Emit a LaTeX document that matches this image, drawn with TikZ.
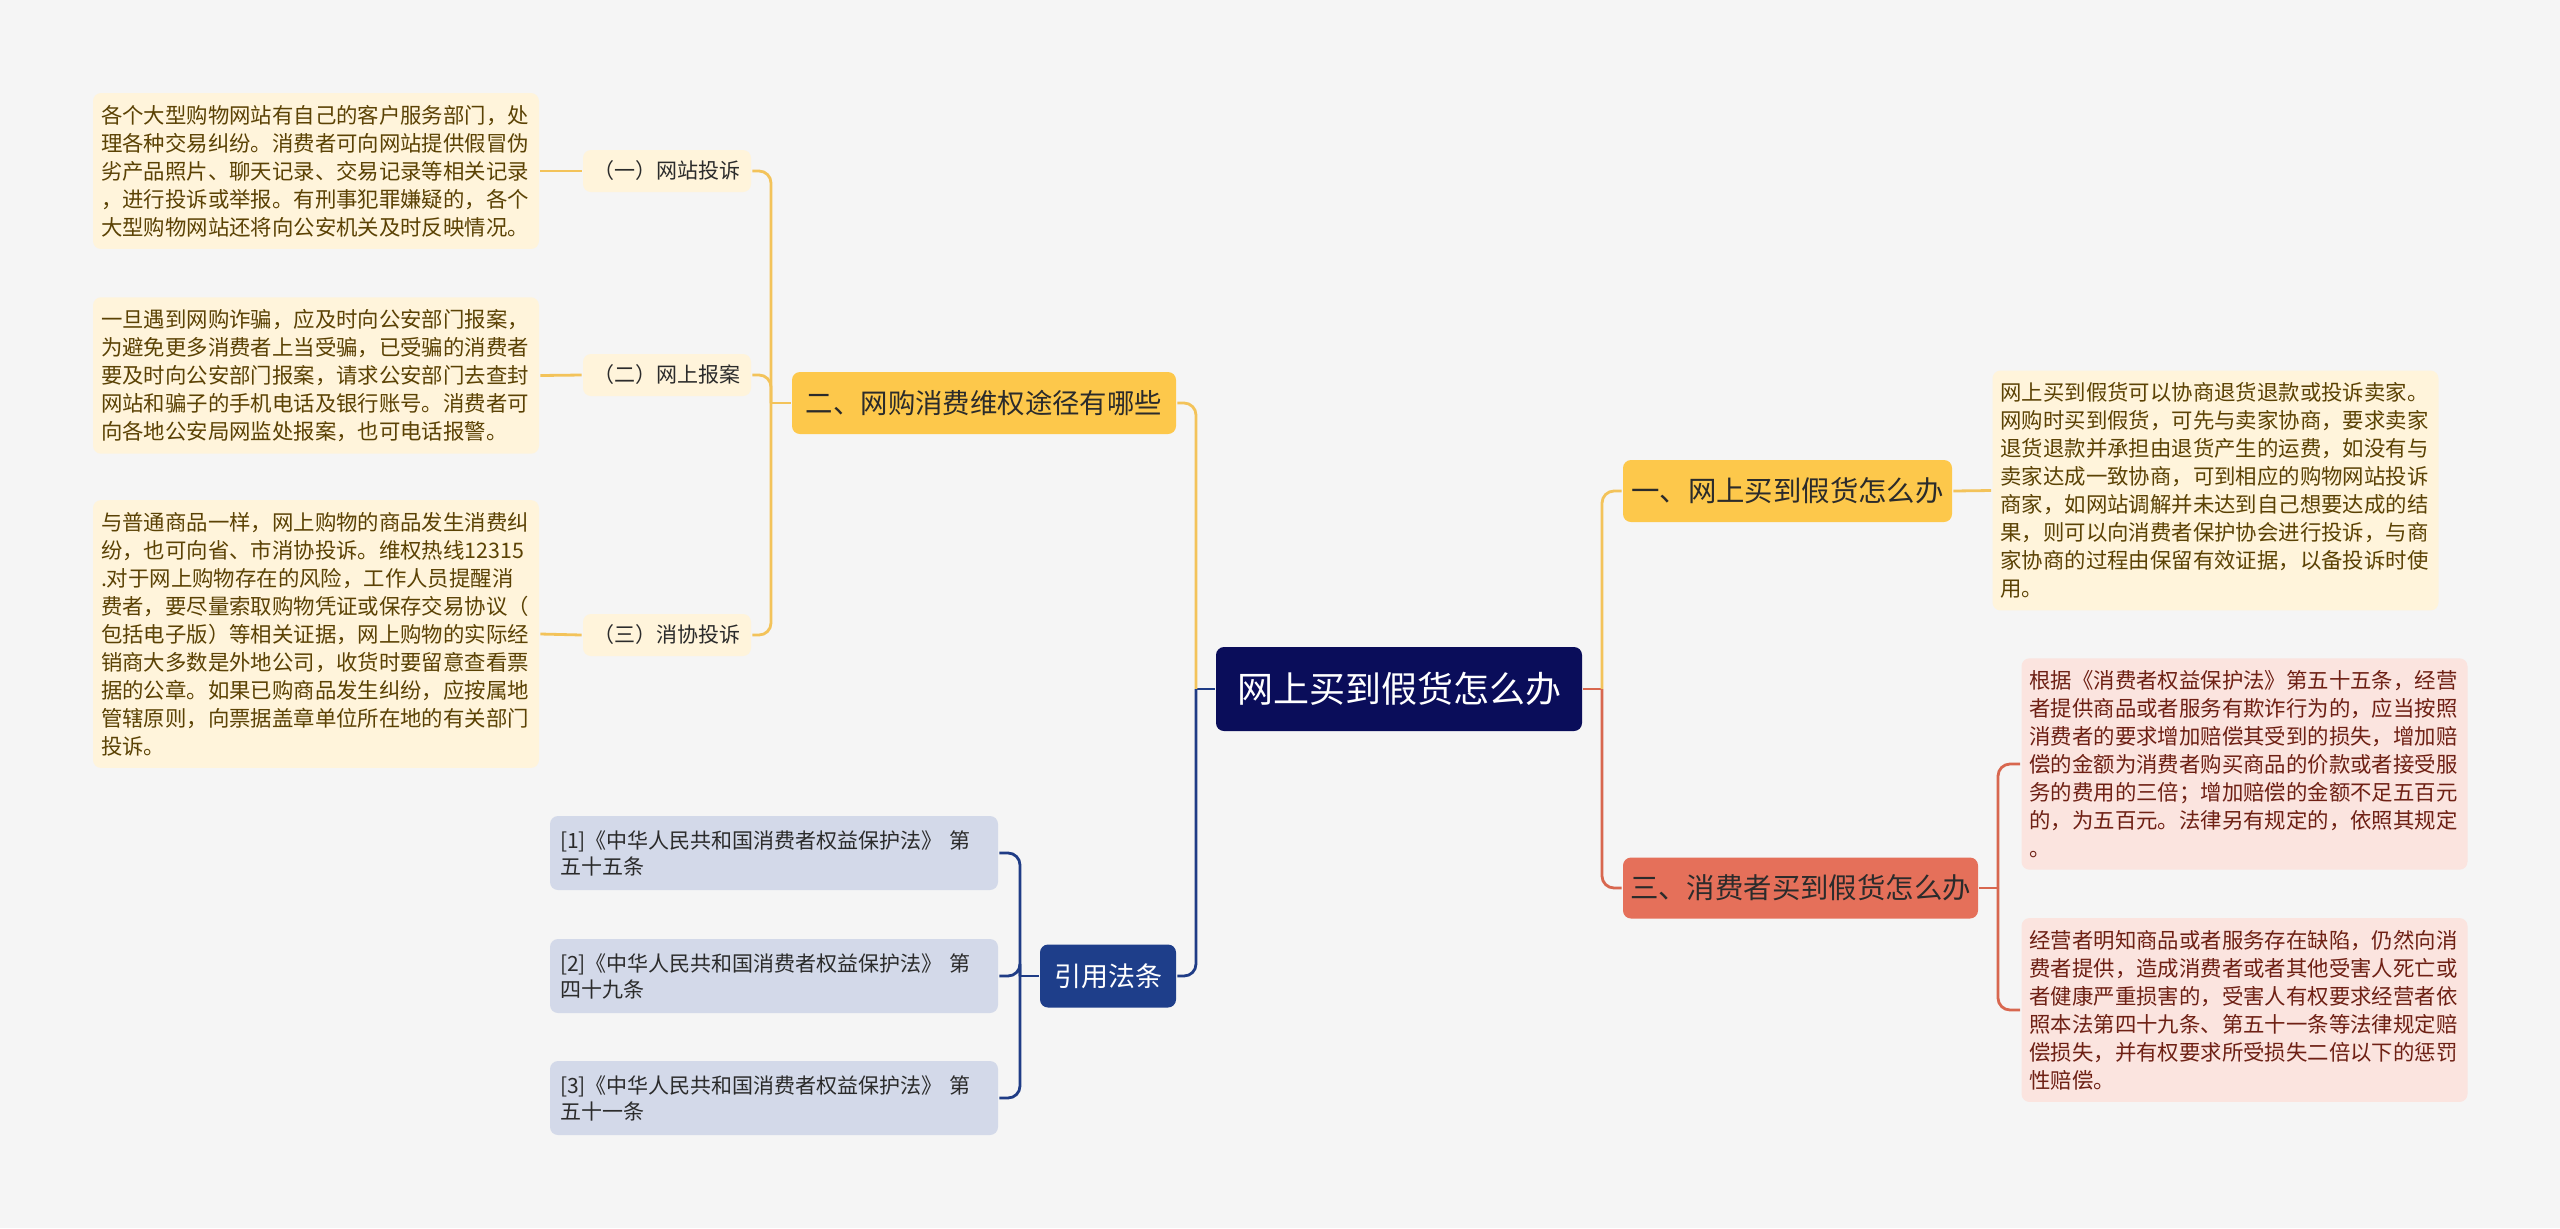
\documentclass[tikz,border=0pt]{standalone}
\usepackage{fontspec}
\setmainfont{Noto Sans CJK SC}
\definecolor{cbg}{HTML}{F5F5F5}
\definecolor{cnavy}{HTML}{0A0D5A}
\definecolor{cyel}{HTML}{FDC84B}
\definecolor{cyelline}{HTML}{F3C35A}
\definecolor{ccream}{HTML}{FFF4DB}
\definecolor{cbrown}{HTML}{5B4204}
\definecolor{cred}{HTML}{E5705A}
\definecolor{credline}{HTML}{D8674F}
\definecolor{cpink}{HTML}{FBE4DF}
\definecolor{cmaroon}{HTML}{6E2014}
\definecolor{claw}{HTML}{1E3E8A}
\definecolor{clawline}{HTML}{1F3C86}
\definecolor{cslate}{HTML}{D3D9E9}
\definecolor{cdark}{HTML}{2B2B2B}
\tikzset{
  every picture/.style={line width=1.4pt},
  topic/.style={fill=#1, rounded corners=4pt, inner sep=0pt, align=center},
  topic/.default=cyel,
  leaf/.style={fill=#1, rounded corners=4pt, inner xsep=4pt, inner ysep=6pt, text width=215pt, align=left, font=\fontsize{10.7}{14}\selectfont},
  leaf/.default=ccream,
  sub/.style={fill=ccream, rounded corners=4pt, inner sep=0pt, minimum width=84pt, minimum height=21pt, text=cdark, font=\fontsize{10.5}{13}\selectfont},
  cite/.style={fill=cslate, rounded corners=4pt, inner xsep=5pt, text width=214pt, minimum height=37pt, align=left, text=cdark, font=\fontsize{10.5}{13}\selectfont},
  link/.style={draw=#1, line width=1.4pt},
  bend/.style={link=#1, rounded corners=6pt},
}
\begin{document}
\begin{tikzpicture}[x=50pt, y=-50pt]
  \fill[cbg] (0,0) rectangle (25.6,12.28);
  \useasboundingbox (0,0) rectangle (25.6,12.28);
  % centre
  \node[topic=cnavy, text=white, font=\fontsize{18}{22}\selectfont, minimum width=183pt, minimum height=42pt] (root) at (13.99,6.89) {网上买到假货怎么办};
  \coordinate (jl) at (11.96,6.89);
  \coordinate (jr) at (16.02,6.89);
  % main topics
  \node[topic, text=cdark, font=\fontsize{13.7}{16}\selectfont, minimum width=192pt, minimum height=31pt] (two) at (9.84,4.03) {二、网购消费维权途径有哪些};
  \node[topic, text=cdark, font=\fontsize{14.2}{17}\selectfont, minimum width=164.5pt, minimum height=31pt] (one) at (17.875,4.91) {一、网上买到假货怎么办};
  \node[topic=cred, text=cdark, font=\fontsize{14.2}{17}\selectfont, minimum width=177.5pt, minimum height=30.5pt] (three) at (18.005,8.88) {三、消费者买到假货怎么办};
  \node[topic=claw, text=white, font=\fontsize{13.5}{16}\selectfont, minimum width=68pt, minimum height=31.5pt] (law) at (11.08,9.76) {引用法条};
  \draw[link=clawline] (root.west) -- (jl);
  \draw[bend=cyelline] (two.east) -| (jl);
  \draw[bend=clawline] (law.east) -| (jl);
  \draw[link=credline] (root.east) -- (jr);
  \draw[bend=cyelline] (one.west) -| (jr);
  \draw[bend=credline] (three.west) -| (jr);
  % ways of complaint
  \coordinate (j2) at (7.71,4.03);
  \foreach \n/\y/\t in {web/1.71/（一）网站投诉, report/3.75/（二）网上报案, assoc/6.35/（三）消协投诉}
    { \node[sub] (\n) at (6.67,\y) {\t};
      \draw[bend=cyelline] (\n.east) -| (j2); }
  \draw[link=cyelline] (two.west) -- (j2);
  \node[leaf, text=cbrown] (webtxt) at (3.16,1.71) {各个大型购物网站有自己的客户服务部门，处\\理各种交易纠纷。消费者可向网站提供假冒伪\\劣产品照片、聊天记录、交易记录等相关记录\\，进行投诉或举报。有刑事犯罪嫌疑的，各个\\大型购物网站还将向公安机关及时反映情况。};
  \node[leaf, text=cbrown] (reporttxt) at (3.16,3.755) {一旦遇到网购诈骗，应及时向公安部门报案，\\为避免更多消费者上当受骗，已受骗的消费者\\要及时向公安部门报案，请求公安部门去查封\\网站和骗子的手机电话及银行账号。消费者可\\向各地公安局网监处报案，也可电话报警。};
  \node[leaf, text=cbrown] (assoctxt) at (3.16,6.34) {与普通商品一样，网上购物的商品发生消费纠\\纷，也可向省、市消协投诉。维权热线12315\\.对于网上购物存在的风险，工作人员提醒消\\费者，要尽量索取购物凭证或保存交易协议（\\包括电子版）等相关证据，网上购物的实际经\\销商大多数是外地公司，收货时要留意查看票\\据的公章。如果已购商品发生纠纷，应按属地\\管辖原则，向票据盖章单位所在地的有关部门\\投诉。};
  \foreach \n in {web, report, assoc}
    { \draw[link=cyelline] (\n txt.east) -- (\n.west); }
  % buying fakes online
  \node[leaf, text=cbrown] (onetxt) at (22.155,4.905) {网上买到假货可以协商退货退款或投诉卖家。\\网购时买到假货，可先与卖家协商，要求卖家\\退货退款并承担由退货产生的运费，如没有与\\卖家达成一致协商，可到相应的购物网站投诉\\商家，如网站调解并未达到自己想要达成的结\\果，则可以向消费者保护协会进行投诉，与商\\家协商的过程由保留有效证据，以备投诉时使\\用。};
  \draw[link=cyelline] (one.east) -- (onetxt.west);
  % consumer side
  \coordinate (j3) at (19.98,8.88);
  \node[leaf=cpink, text=cmaroon] (fraud) at (22.445,7.64) {根据《消费者权益保护法》第五十五条，经营\\者提供商品或者服务有欺诈行为的，应当按照\\消费者的要求增加赔偿其受到的损失，增加赔\\偿的金额为消费者购买商品的价款或者接受服\\务的费用的三倍；增加赔偿的金额不足五百元\\的，为五百元。法律另有规定的，依照其规定\\。};
  \node[leaf=cpink, text=cmaroon] (defect) at (22.445,10.10) {经营者明知商品或者服务存在缺陷，仍然向消\\费者提供，造成消费者或者其他受害人死亡或\\者健康严重损害的，受害人有权要求经营者依\\照本法第四十九条、第五十一条等法律规定赔\\偿损失，并有权要求所受损失二倍以下的惩罚\\性赔偿。};
  \draw[link=credline] (three.east) -- (j3);
  \draw[bend=credline] (fraud.west) -| (j3);
  \draw[bend=credline] (defect.west) -| (j3);
  % cited articles
  \coordinate (jc) at (10.20,9.76);
  \draw[link=clawline] (law.west) -- (jc);
  \foreach \i/\y/\t in {1/8.53/五十五条, 2/9.76/四十九条, 3/10.98/五十一条}
    { \node[cite] (law\i) at (7.74,\y) {[\i]《中华人民共和国消费者权益保护法》 第\\\t};
      \draw[bend=clawline] (law\i.east) -| (jc); }
\end{tikzpicture}
\end{document}
